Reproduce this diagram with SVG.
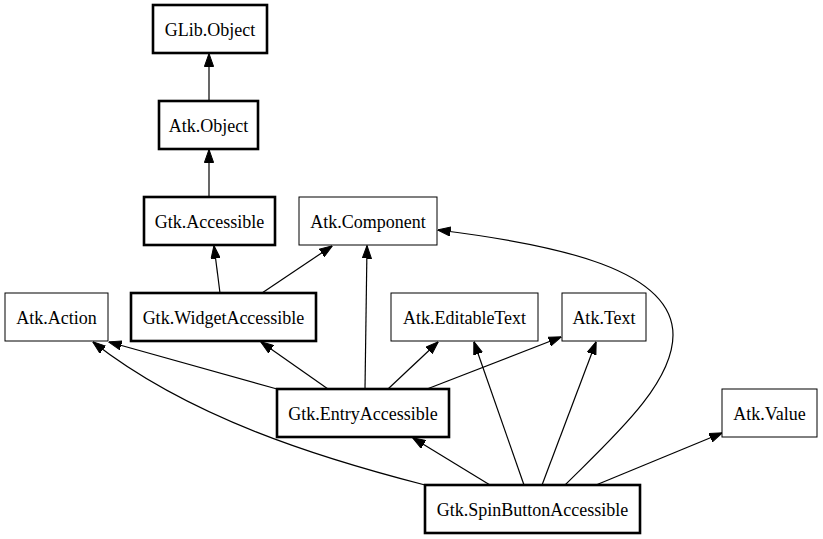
<svg xmlns="http://www.w3.org/2000/svg" width="823" height="539" viewBox="0 0 823 539">
<style>
.n rect{fill:#fff;stroke:#000;stroke-width:1}
.n.b rect{stroke-width:2.6}
.n text{font-family:"Liberation Serif","Times New Roman",serif;font-size:18px;text-anchor:middle;fill:#000}
#edges path{fill:none;stroke:#000;stroke-width:1.2;marker-end:url(#arr)}
</style>
<defs>
<marker id="arr" viewBox="0 0 13 10" refX="12.5" refY="5" markerWidth="13" markerHeight="10" markerUnits="userSpaceOnUse" orient="auto">
<path d="M0,0.4 L13,5 L0,9.6 z" fill="#000" stroke="#000" stroke-width="1"/>
</marker>
</defs>
<rect width="823" height="539" fill="#fff"/>
<g id="edges">
<path d="M209,101 L209,54"/>
<path d="M209,197 L209,150"/>
<path d="M220,293 L214,246"/>
<path d="M262,293 L332,246"/>
<path d="M277,389 L109,342"/>
<path d="M328,389 L261,342"/>
<path d="M365,389 L367,246"/>
<path d="M388,389 L438,342"/>
<path d="M427,389 L561,337"/>
<path d="M425,485 C320,458 190,418 93,342"/>
<path d="M490,485 L413,438"/>
<path d="M524,485 L474,342"/>
<path d="M542,485 L596,342"/>
<path d="M565,485 C610,440 673,385 673,335 C673,270 560,245 438,230"/>
<path d="M596,485 L722,433"/>
</g>
<g id="glib_object" class="n b"><rect x="153" y="5" width="114" height="48"/><text x="210" y="36">GLib.Object</text></g>
<g id="atk_object" class="n b"><rect x="159" y="101" width="99" height="48"/><text x="208.5" y="132">Atk.Object</text></g>
<g id="gtk_accessible" class="n b"><rect x="144" y="197" width="131" height="48"/><text x="209.5" y="228">Gtk.Accessible</text></g>
<g id="atk_component" class="n"><rect x="299" y="197" width="138" height="48"/><text x="368" y="228">Atk.Component</text></g>
<g id="atk_action" class="n"><rect x="5" y="293" width="103" height="48"/><text x="56.5" y="324">Atk.Action</text></g>
<g id="gtk_widgetaccessible" class="n b"><rect x="131" y="293" width="185" height="48"/><text x="223.5" y="324">Gtk.WidgetAccessible</text></g>
<g id="atk_editabletext" class="n"><rect x="391" y="293" width="147" height="48"/><text x="464.5" y="324">Atk.EditableText</text></g>
<g id="atk_text" class="n"><rect x="562" y="293" width="84" height="48"/><text x="604" y="324">Atk.Text</text></g>
<g id="gtk_entryaccessible" class="n b"><rect x="277" y="389" width="172" height="48"/><text x="363" y="420">Gtk.EntryAccessible</text></g>
<g id="atk_value" class="n"><rect x="722" y="389" width="95" height="48"/><text x="769.5" y="420">Atk.Value</text></g>
<g id="gtk_spinbuttonaccessible" class="n b"><rect x="425" y="485" width="215" height="48"/><text x="532.5" y="516">Gtk.SpinButtonAccessible</text></g>
</svg>
